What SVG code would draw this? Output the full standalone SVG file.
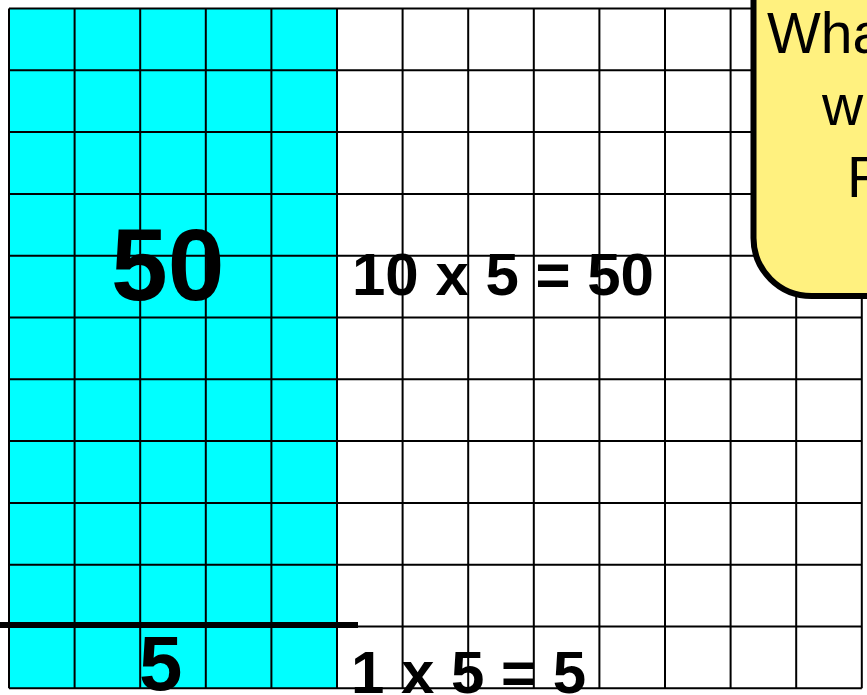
<svg xmlns="http://www.w3.org/2000/svg" width="867" height="695" viewBox="0 0 867 695">
<style>
.g{stroke:#000;stroke-width:2;fill:none}
.eq{font-family:"Liberation Sans",Arial,sans-serif;font-weight:bold;fill:#000}
.call{font-family:"Liberation Sans",Arial,sans-serif;font-size:57px;fill:#000}
</style>
<rect width="867" height="695" fill="#fff"/>
<g id="shaded">
<rect x="9" y="8.5" width="328" height="679.8" fill="#00FFFF"/>
</g>
<g id="grid" class="g">
<path d="M9 8.5V688.3M74.6 8.5V688.3M140.2 8.5V688.3M205.8 8.5V688.3M271.4 8.5V688.3M337 8.5V688.3M402.6 8.5V688.3M468.2 8.5V688.3M533.8 8.5V688.3M599.4 8.5V688.3M665 8.5V688.3M730.6 8.5V688.3M796.2 8.5V688.3M861.8 8.5V688.3"/>
<path d="M9 8.5H861.8M9 70.3H861.8M9 132.1H861.8M9 193.9H861.8M9 255.7H861.8M9 317.5H861.8M9 379.3H861.8M9 441.1H861.8M9 502.9H861.8M9 564.7H861.8M9 626.5H861.8M9 688.3H861.8"/>
</g>
<g id="divider">
<line x1="0" y1="625" x2="358" y2="625" stroke="#000" stroke-width="6"/>
</g>
<g id="labels">
<text class="eq" x="111" y="300" font-size="102">50</text>
<text class="eq" x="352" y="295" font-size="60">10 x 5 = 50</text>
<text class="eq" x="139" y="690" font-size="78">5</text>
<text class="eq" x="351" y="693" font-size="60">1 x 5 = 5</text>
</g>
<g id="callout">
<rect x="753.5" y="-100" width="200" height="396" rx="58" ry="58" fill="#FFF17F" stroke="#000" stroke-width="6"/>
<text class="call" x="767" y="53">Wha</text>
<text class="call" x="822" y="125">w</text>
<text class="call" x="847" y="197">R</text>
</g>
</svg>
